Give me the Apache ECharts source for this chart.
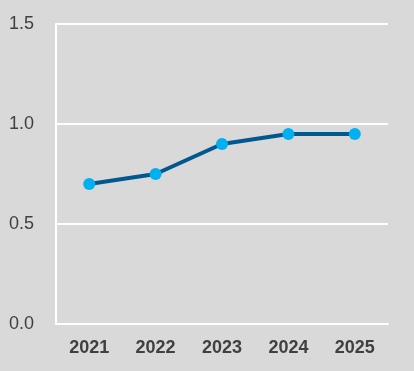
<!DOCTYPE html>
<html>
<head>
<meta charset="utf-8">
<script src="https://cdn.jsdelivr.net/npm/echarts@6/dist/echarts.min.js"></script>
<style>
html,body{margin:0;padding:0;background:#d9d9d9;}
#c{width:414px;height:371px;}
</style>
</head>
<body>
<div id="c"></div>
<script>
var categories = ['2021', '2022', '2023', '2024', '2025'];
var values = [0.7, 0.75, 0.9, 0.95, 0.95];
var yTicks = [0, 0.5, 1.0, 1.5];

var chart = echarts.init(document.getElementById('c'));
chart.setOption({
  backgroundColor: '#d9d9d9',
  animation: false,
  grid: { left: 56, right: 26, top: 24, bottom: 47 },
  xAxis: {
    type: 'category',
    data: categories,
    boundaryGap: true,
    axisLine: { show: true, lineStyle: { color: '#ffffff', width: 2 } },
    axisTick: { show: false },
    axisLabel: { color: '#404040', fontSize: 18, fontWeight: 'bold', fontFamily: '"Liberation Sans", Arial, sans-serif', margin: 15 }
  },
  yAxis: {
    type: 'value',
    min: yTicks[0],
    max: yTicks[yTicks.length - 1],
    interval: 0.5,
    axisLine: { show: true, lineStyle: { color: '#ffffff', width: 2 } },
    axisTick: { show: false },
    splitLine: { show: true, lineStyle: { color: '#ffffff', width: 2 } },
    axisLabel: {
      color: '#404040', fontSize: 18, fontFamily: '"Liberation Sans", Arial, sans-serif', margin: 22,
      formatter: function (v) { return v.toFixed(1); }
    }
  },
  series: [{
    type: 'line',
    data: values,
    lineStyle: { color: '#00588f', width: 4 },
    itemStyle: { color: '#00b0f0' },
    symbol: 'circle',
    symbolSize: 12,
    z: 3
  }]
});
</script>
</body>
</html>
